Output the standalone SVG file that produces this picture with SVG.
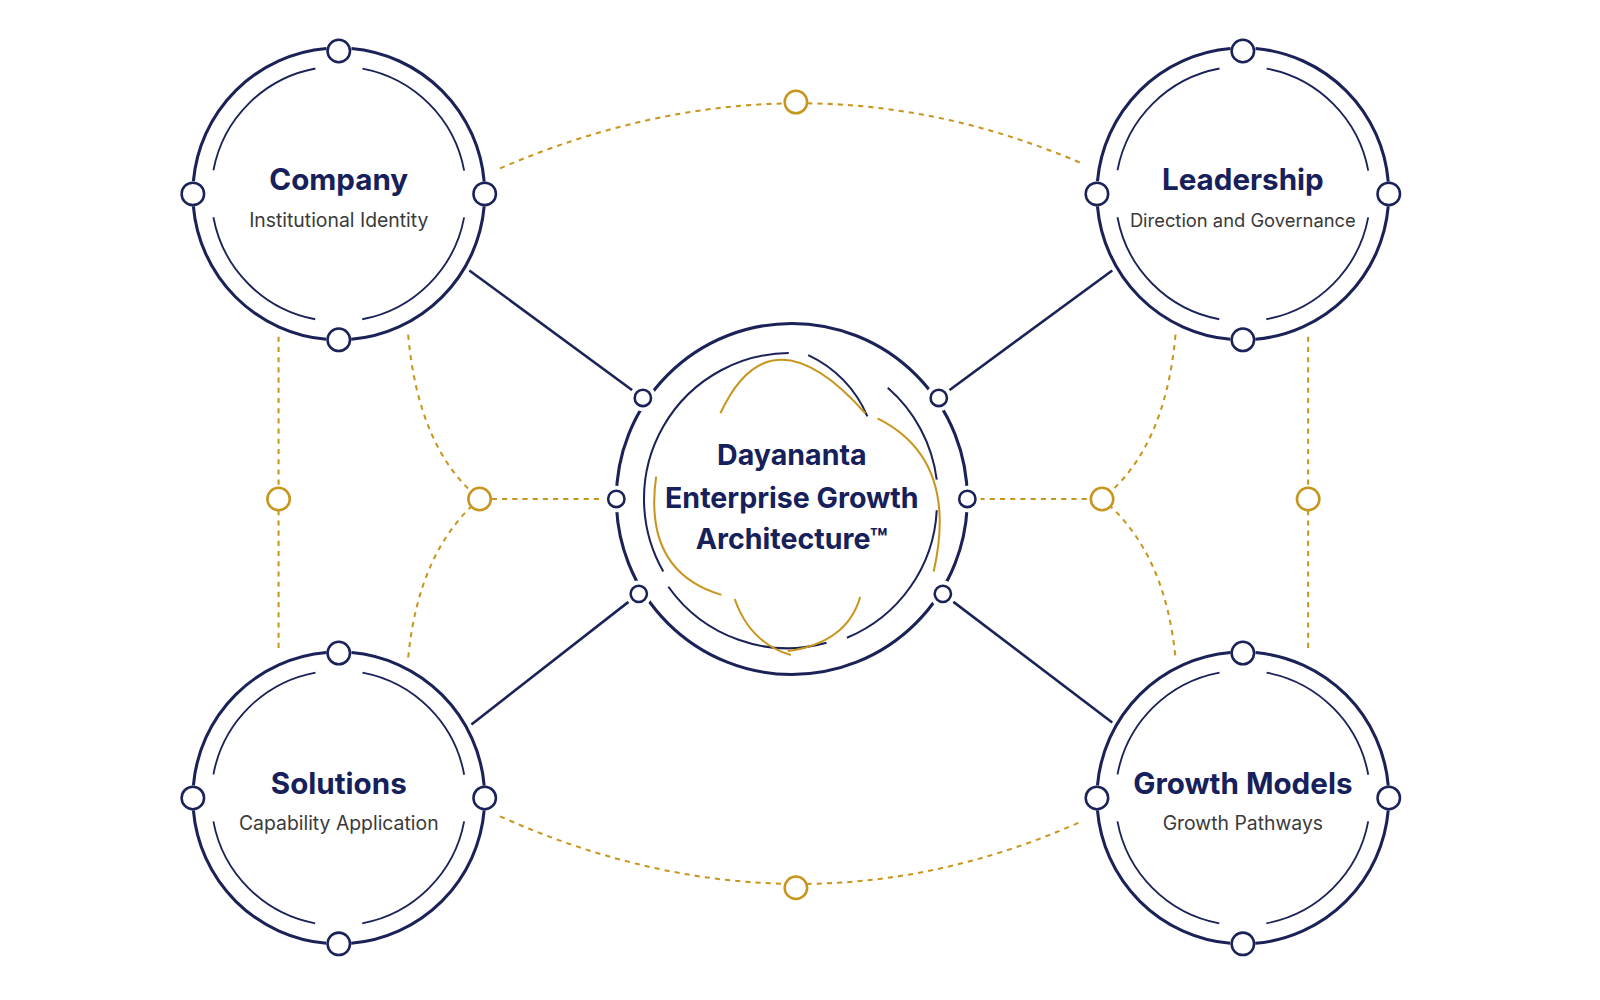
<svg xmlns="http://www.w3.org/2000/svg" width="1600" height="1000" viewBox="0 0 1600 1000">
<defs>
<style>
.o{fill:none;stroke:#1B2257;stroke-width:3;stroke-dasharray:200 24.6;stroke-dashoffset:212.3}
.i{fill:none;stroke:#1B2257;stroke-width:1.8;stroke-dasharray:150 46.35;stroke-dashoffset:173.2}
.n{fill:#fff;stroke:#1B2257;stroke-width:2.5}
.g{fill:#fff;stroke:#C8961E;stroke-width:2.5}
.d{fill:none;stroke:#C8961E;stroke-width:2;stroke-dasharray:5 5}
.l{stroke:#1B2257;stroke-width:2.5}
.t{font-family:Inter,"Liberation Sans",sans-serif;font-weight:700;fill:#16205A;text-anchor:middle}
.s{font-family:Inter,"Liberation Sans",sans-serif;font-size:19px;fill:#3a3a3a;text-anchor:middle}
.ga{fill:none;stroke:#C8961E;stroke-width:2}
.na{fill:none;stroke:#1B2257;stroke-width:2}
</style>
</defs>
<rect width="1600" height="1000" fill="#fff"/>
<g transform="scale(1.0204)">
<g id="connectors">
<line class="l" x1="460" y1="265" x2="630" y2="390"/>
<line class="l" x1="1090" y1="265" x2="920" y2="390"/>
<line class="l" x1="462" y1="710" x2="626" y2="582"/>
<line class="l" x1="1090" y1="708" x2="924" y2="582"/>
<path class="d" d="M490,165 Q780,40 1060,160"/>
<path class="d" d="M490,800 Q780,930 1060,805"/>
<line class="d" x1="273" y1="330" x2="273" y2="640"/>
<line class="d" x1="1282" y1="330" x2="1282" y2="640"/>
<path class="d" d="M400,328 Q410,440 470,489 Q410,540 400,645"/>
<path class="d" d="M1152,328 Q1142,440 1080,489 Q1142,540 1152,645"/>
<line class="d" x1="482" y1="489" x2="592" y2="489"/>
<line class="d" x1="960" y1="489" x2="1068" y2="489"/>
<circle class="g" cx="780" cy="100" r="11"/>
<circle class="g" cx="780" cy="870" r="11"/>
<circle class="g" cx="273" cy="489" r="11"/>
<circle class="g" cx="1282" cy="489" r="11"/>
<circle class="g" cx="470" cy="489" r="11"/>
<circle class="g" cx="1080" cy="489" r="11"/>
</g>
<g id="center">
<circle cx="776" cy="489" r="172" fill="none" stroke="#1B2257" stroke-width="3"/>
<path class="na" d="M773,346 A143,143 0 0,0 650,560"/>
<path class="na" d="M655,575 A143,143 0 0,0 810,630"/>
<path class="na" d="M830,625 A143,143 0 0,0 918,500"/>
<path class="na" d="M918,470 A143,143 0 0,0 870,380"/>
<path class="na" d="M792,348 A115,115 0 0,1 850,408"/>
<path class="ga" d="M706,405 Q755,300 848,405"/>
<path class="ga" d="M860,410 Q940,450 915,560"/>
<path class="ga" d="M643,467 Q630,560 707,583"/>
<path class="ga" d="M720,587 Q735,630 775,642"/>
<path class="ga" d="M843,585 Q830,630 772,638"/>
<g>
<circle cx="604" cy="489" r="13" fill="#fff"/><circle class="n" cx="604" cy="489" r="8"/>
<circle cx="948" cy="489" r="13" fill="#fff"/><circle class="n" cx="948" cy="489" r="8"/>
<circle cx="630" cy="390" r="13" fill="#fff"/><circle class="n" cx="630" cy="390" r="8"/>
<circle cx="920" cy="390" r="13" fill="#fff"/><circle class="n" cx="920" cy="390" r="8"/>
<circle cx="626" cy="582" r="13" fill="#fff"/><circle class="n" cx="626" cy="582" r="8"/>
<circle cx="924" cy="582" r="13" fill="#fff"/><circle class="n" cx="924" cy="582" r="8"/>
</g>
<text class="t" x="776" y="456" font-size="28">Dayananta</text>
<text class="t" x="776" y="498" font-size="28">Enterprise Growth</text>
<text class="t" x="776" y="538" font-size="28">Architecture™</text>
</g>
<g id="company">
<circle class="o" cx="332" cy="190" r="143"/><circle class="i" cx="332" cy="190" r="125"/>
<circle class="n" cx="332" cy="50" r="11"/><circle class="n" cx="332" cy="333" r="11"/><circle class="n" cx="189" cy="190" r="11"/><circle class="n" cx="475" cy="190" r="11"/>
<text class="t" x="332" y="186" font-size="29">Company</text>
<text class="s" x="332" y="222">Institutional Identity</text>
</g>
<g id="leadership">
<circle class="o" cx="1218" cy="190" r="143"/><circle class="i" cx="1218" cy="190" r="125"/>
<circle class="n" cx="1218" cy="50" r="11"/><circle class="n" cx="1218" cy="333" r="11"/><circle class="n" cx="1075" cy="190" r="11"/><circle class="n" cx="1361" cy="190" r="11"/>
<text class="t" x="1218" y="186" font-size="29">Leadership</text>
<text class="s" x="1218" y="222" font-size="18" style="font-size:18px">Direction and Governance</text>
</g>
<g id="solutions">
<circle class="o" cx="332" cy="782" r="143"/><circle class="i" cx="332" cy="782" r="125"/>
<circle class="n" cx="332" cy="640" r="11"/><circle class="n" cx="332" cy="925" r="11"/><circle class="n" cx="189" cy="782" r="11"/><circle class="n" cx="475" cy="782" r="11"/>
<text class="t" x="332" y="778" font-size="29">Solutions</text>
<text class="s" x="332" y="813">Capability Application</text>
</g>
<g id="growth-models">
<circle class="o" cx="1218" cy="782" r="143"/><circle class="i" cx="1218" cy="782" r="125"/>
<circle class="n" cx="1218" cy="640" r="11"/><circle class="n" cx="1218" cy="925" r="11"/><circle class="n" cx="1075" cy="782" r="11"/><circle class="n" cx="1361" cy="782" r="11"/>
<text class="t" x="1218" y="778" font-size="29">Growth Models</text>
<text class="s" x="1218" y="813">Growth Pathways</text>
</g>
</g>
</svg>
